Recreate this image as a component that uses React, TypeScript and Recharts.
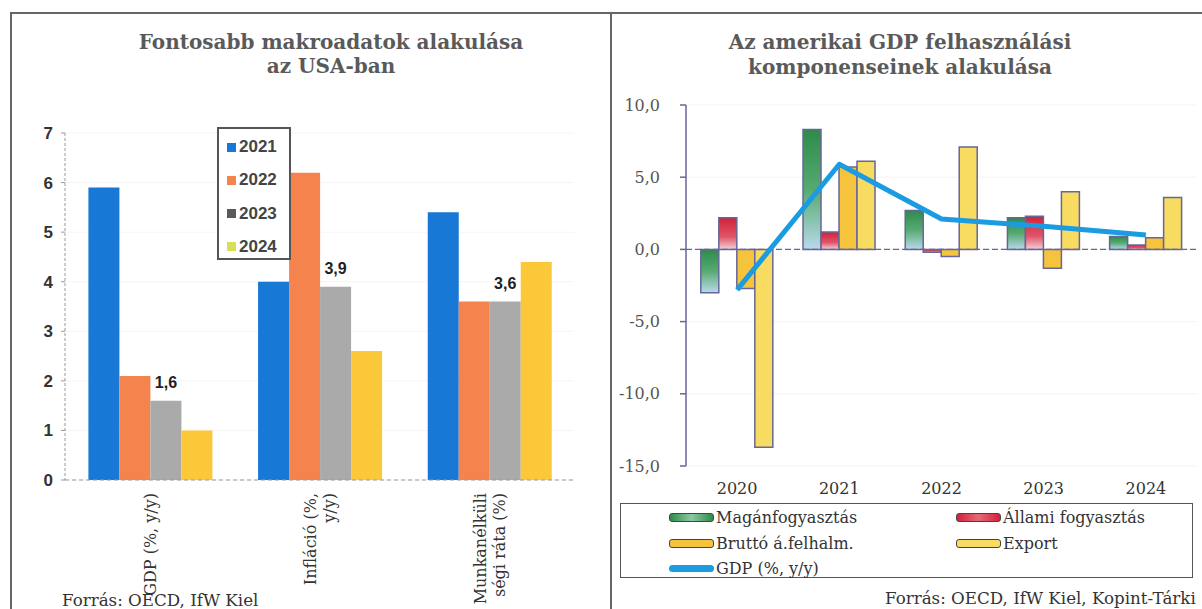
import {
  BarChart,
  Bar,
  ComposedChart,
  Line,
  XAxis,
  YAxis,
  CartesianGrid,
  Legend,
  LabelList,
  ReferenceLine,
} from "recharts";

const SERIF = '"DejaVu Serif", Georgia, serif';
const SANS = '"Liberation Sans", Arial, sans-serif';

// Left panel: main US macro indicators
const macroCategories = ["GDP (%, y/y)", "Infláció (%,\ny/y)", "Munkanélküli\nségi ráta (%)"];
const macroYears = ["2021", "2022", "2023", "2024"];
const macro2021 = [5.9, 4.0, 5.4];
const macro2022 = [2.1, 6.2, 3.6];
const macro2023 = [1.6, 3.9, 3.6];
const macro2024 = [1.0, 2.6, 4.4];
const macroTicks = [0, 1, 2, 3, 4, 5, 6, 7];

// Right panel: GDP expenditure components
const compYears = ["2020", "2021", "2022", "2023", "2024"];
const privateCons = [-3.0, 8.3, 2.7, 2.2, 0.9];
const govCons = [2.2, 1.2, -0.2, 2.3, 0.3];
const grossCapital = [-2.7, 5.7, -0.5, -1.3, 0.8];
const exportsGrowth = [-13.7, 6.1, 7.1, 4.0, 3.6];
const gdpGrowth = [-2.8, 5.9, 2.1, 1.6, 1.0];
const compTicks = [-15, -10, -5, 0, 5, 10];

const macroColors = ["#1778d6", "#f5834e", "#aaaaaa", "#fbc83a"];
const macroMarkers = ["#1778d6", "#f5834e", "#5a5a5a", "#d8df55"];

const macroData = macroCategories.map((name, i) => ({
  name,
  y2021: macro2021[i],
  y2022: macro2022[i],
  y2023: macro2023[i],
  y2024: macro2024[i],
}));

const compData = compYears.map((year, i) => ({
  year,
  priv: privateCons[i],
  gov: govCons[i],
  cap: grossCapital[i],
  exp: exportsGrowth[i],
  gdp: gdpGrowth[i],
}));

const BAR_STROKE = "#66669a";
const comma = (v: any) => String(v).replace(".", ",");

// rotated, possibly two-line category labels under the left chart
function MacroTick({ x, y, payload }: any) {
  const lines = String(payload.value).split("\n");
  return (
    <g transform={`translate(${x},${y})`}>
      <text
        transform="rotate(-90)"
        textAnchor="end"
        dominantBaseline="central"
        fontFamily={SERIF}
        fontSize={16}
        fill="#333"
      >
        {lines.map((l, i) => (
          <tspan key={i} x={0} y={(i - (lines.length - 1) / 2) * 19} dominantBaseline="central">
            {l}
          </tspan>
        ))}
      </text>
    </g>
  );
}

function MacroLegend() {
  return (
    <div
      style={{
        width: 74,
        height: 133,
        border: "2px solid #555",
        boxSizing: "border-box",
        background: "#fff",
        position: "relative",
      }}
    >
      {macroYears.map((yr, i) => (
        <div
          key={yr}
          style={{
            position: "absolute",
            left: 8,
            top: 9 + i * 33.3,
            height: 18,
            display: "flex",
            alignItems: "center",
          }}
        >
          <span style={{ width: 9, height: 9, background: macroMarkers[i], marginRight: 3 }} />
          <span style={{ font: `bold 17px ${SANS}`, color: "#444" }}>{yr}</span>
        </div>
      ))}
    </div>
  );
}

const swatchFills: Record<string, string> = {
  "Magánfogyasztás": "linear-gradient(90deg, #2e8b4a, #8fc7a4, #2e8b4a)",
  "Állami fogyasztás": "linear-gradient(90deg, #d2213a, #e46a7a, #d2213a)",
  "Bruttó á.felhalm.": "#f6c43c",
  Export: "#f8dc62",
};

const compLegendItems = [
  { name: "Magánfogyasztás", left: 48, top: 13 },
  { name: "Állami fogyasztás", left: 335, top: 13 },
  { name: "Bruttó á.felhalm.", left: 48, top: 39 },
  { name: "Export", left: 335, top: 39 },
];

function CompLegend() {
  return (
    <div
      style={{
        width: 573,
        height: 75,
        border: "1.5px solid #555",
        boxSizing: "border-box",
        background: "#fff",
        position: "relative",
        font: `16px ${SERIF}`,
        color: "#333",
      }}
    >
      {compLegendItems.map((it) => (
        <div
          key={it.name}
          style={{ position: "absolute", left: it.left, top: it.top - 10, height: 20, display: "flex", alignItems: "center" }}
        >
          <span
            style={{
              width: 45,
              height: 9,
              boxSizing: "border-box",
              border: "1.5px solid #444",
              borderRadius: 3,
              background: swatchFills[it.name],
              marginRight: 2,
            }}
          />
          <span>{it.name}</span>
        </div>
      ))}
      <div style={{ position: "absolute", left: 48, top: 54, height: 20, display: "flex", alignItems: "center" }}>
        <span style={{ width: 45, height: 7, borderRadius: 4, background: "#1b9be0", marginRight: 2 }} />
        <span>GDP (%, y/y)</span>
      </div>
    </div>
  );
}

export default function App() {
  return (
    <div style={{ position: "relative", width: 1202, height: 609, overflow: "hidden", background: "#fff" }}>
      <style>{"body{margin:0}"}</style>

      {/* panel frames */}
      <div style={{ position: "absolute", left: 10, top: 12, width: 600, height: 2, background: "#666" }} />
      <div style={{ position: "absolute", left: 10, top: 12, width: 2, height: 597, background: "#666" }} />
      <div style={{ position: "absolute", left: 610, top: 12, width: 592, height: 2, background: "#666" }} />
      <div style={{ position: "absolute", left: 610, top: 12, width: 2, height: 597, background: "#666" }} />

      <div style={{ position: "absolute", left: 0, top: 0 }}>
        <BarChart
          width={610}
          height={609}
          data={macroData}
          margin={{ top: 133, right: 36, bottom: 19, left: 0 }}
          barCategoryGap="13.8%"
          barGap={0}
        >
          <CartesianGrid vertical={false} stroke="#f5f5f5" />
          <XAxis
            dataKey="name"
            interval={0}
            height={110}
            tickSize={0}
            tickMargin={13}
            axisLine={{ stroke: "#999", strokeDasharray: "4 3" }}
            tick={<MacroTick />}
          />
          <YAxis
            width={65}
            domain={[0, 7]}
            ticks={macroTicks}
            interval={0}
            tickSize={4}
            tickMargin={8}
            axisLine={{ stroke: "#999", strokeDasharray: "3 2" }}
            tickLine={{ stroke: "#999" }}
            tick={{ fill: "#333", fontSize: 17, fontWeight: "bold", fontFamily: SANS }}
          />
          <Legend
            layout="horizontal"
            align="center"
            verticalAlign="middle"
            content={() => <MacroLegend />}
            wrapperStyle={{ left: 217, top: 127, width: 74, height: 133 }}
          />
          <Bar dataKey="y2021" name="2021" fill={macroColors[0]} isAnimationActive={false} />
          <Bar dataKey="y2022" name="2022" fill={macroColors[1]} isAnimationActive={false} />
          <Bar dataKey="y2023" name="2023" fill={macroColors[2]} isAnimationActive={false}>
            <LabelList
              dataKey="y2023"
              position="top"
              offset={13}
              formatter={comma}
              fill="#222"
              fontSize={16}
              fontWeight="bold"
              fontFamily={SANS}
            />
          </Bar>
          <Bar dataKey="y2024" name="2024" fill={macroColors[3]} isAnimationActive={false} />
        </BarChart>
      </div>

      <div
        style={{
          position: "absolute",
          left: 131,
          top: 30,
          width: 400,
          textAlign: "center",
          font: `bold 20px/24px ${SERIF}`,
          color: "#5a5a5a",
        }}
      >
        Fontosabb makroadatok alakulása
        <br />
        az USA-ban
      </div>
      <div style={{ position: "absolute", left: 62, top: 590, font: `16.7px/20px ${SERIF}`, color: "#333", whiteSpace: "nowrap" }}>
        Forrás: OECD, IfW Kiel
      </div>

      <div style={{ position: "absolute", left: 610, top: 0 }}>
        <ComposedChart
          width={592}
          height={609}
          data={compData}
          margin={{ top: 105, right: 5, bottom: 113, left: 0 }}
          barCategoryGap="14.5%"
          barGap={0}
        >
          <defs>
            <linearGradient id="privFill" x1="0" y1="0" x2="0" y2="1">
              <stop offset="0%" stopColor="#2e8b4a" />
              <stop offset="50%" stopColor="#56aa70" />
              <stop offset="100%" stopColor="#b9d9ea" />
            </linearGradient>
            <linearGradient id="govFill" x1="0" y1="0" x2="0" y2="1">
              <stop offset="0%" stopColor="#d2213a" />
              <stop offset="60%" stopColor="#e05468" />
              <stop offset="100%" stopColor="#f3d0d6" />
            </linearGradient>
          </defs>
          <CartesianGrid vertical={false} stroke="#f3f3f3" />
          <XAxis
            dataKey="year"
            interval={0}
            height={30}
            axisLine={false}
            tickLine={false}
            tickSize={0}
            tickMargin={17}
            tick={{ fill: "#333", fontSize: 16, fontFamily: SERIF }}
          />
          <YAxis
            width={76}
            domain={[-15, 10]}
            ticks={compTicks}
            interval={0}
            tickSize={6}
            tickMargin={20}
            tickFormatter={(v: number) => v.toFixed(1).replace(".", ",")}
            axisLine={{ stroke: BAR_STROKE, strokeWidth: 1.5 }}
            tickLine={{ stroke: BAR_STROKE, strokeWidth: 1.5 }}
            tick={{ fill: "#555", fontSize: 16, fontFamily: SERIF }}
          />
          <ReferenceLine y={0} stroke={BAR_STROKE} strokeDasharray="6 3" strokeWidth={1.2} />
          <Legend
            layout="horizontal"
            align="center"
            verticalAlign="middle"
            content={() => <CompLegend />}
            wrapperStyle={{ left: 10, top: 503, width: 573, height: 75 }}
          />
          <Bar dataKey="priv" name="Magánfogyasztás" fill="url(#privFill)" stroke={BAR_STROKE} strokeWidth={1.5} isAnimationActive={false} />
          <Bar dataKey="gov" name="Állami fogyasztás" fill="url(#govFill)" stroke={BAR_STROKE} strokeWidth={1.5} isAnimationActive={false} />
          <Bar dataKey="cap" name="Bruttó á.felhalm." fill="#f6c43c" stroke={BAR_STROKE} strokeWidth={1.5} isAnimationActive={false} />
          <Bar dataKey="exp" name="Export" fill="#f8dc62" stroke={BAR_STROKE} strokeWidth={1.5} isAnimationActive={false} />
          <Line
            dataKey="gdp"
            name="GDP (%, y/y)"
            type="linear"
            stroke="#1b9be0"
            strokeWidth={5}
            strokeLinejoin="round"
            dot={false}
            activeDot={false}
            isAnimationActive={false}
          />
        </ComposedChart>
      </div>

      <div
        style={{
          position: "absolute",
          left: 700,
          top: 30,
          width: 400,
          textAlign: "center",
          font: `bold 20px/25px ${SERIF}`,
          color: "#5a5a5a",
        }}
      >
        Az amerikai GDP felhasználási
        <br />
        komponenseinek alakulása
      </div>
      <div style={{ position: "absolute", left: 885, top: 588, font: `16.7px/20px ${SERIF}`, color: "#333", whiteSpace: "nowrap" }}>
        Forrás: OECD, IfW Kiel, Kopint-Tárki
      </div>
    </div>
  );
}
